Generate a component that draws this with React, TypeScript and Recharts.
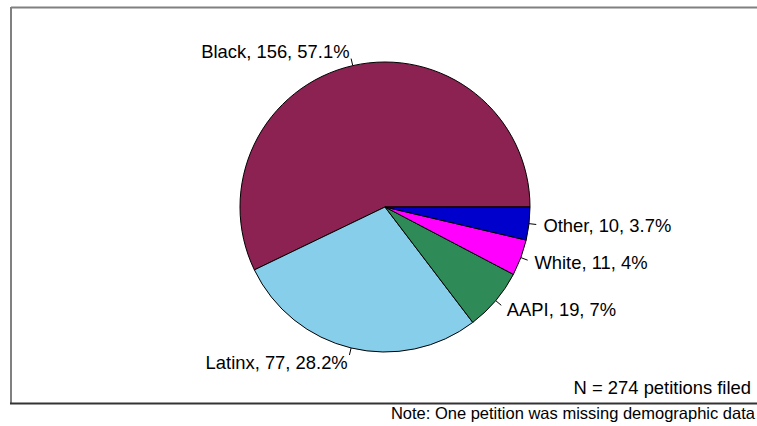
import React from "react"
import { Cell, Pie, PieChart } from "recharts"

const groups = ["Black", "Latinx", "AAPI", "White", "Other"]
const counts = [156, 77, 19, 11, 10]
const shares = ["57.1%", "28.2%", "7%", "4%", "3.7%"]
const colors = ["#8B2252", "#87CEEB", "#2E8B57", "#FF00FF", "#0000CD"]

const data = groups.map((name, i) => ({ name, value: counts[i], share: shares[i] }))

const FONT = "'Liberation Sans', Arial, sans-serif"
const RAD = Math.PI / 180

const renderLabel = (props: any) => {
  const { cx, cy, midAngle, outerRadius, index } = props
  const c = Math.cos(-midAngle * RAD)
  const s = Math.sin(-midAngle * RAD)
  const x1 = cx + outerRadius * c
  const y1 = cy + outerRadius * s
  const x2 = cx + outerRadius * 1.05 * c
  const y2 = cy + outerRadius * 1.05 * s
  const tx = cx + outerRadius * 1.1 * c
  const ty = cy + outerRadius * 1.1 * s
  const d = data[index]
  return (
    <g key={`lbl-${index}`}>
      <line x1={x1} y1={y1} x2={x2} y2={y2} stroke="#000" strokeWidth={1} />
      <text
        x={tx}
        y={ty}
        textAnchor={c >= 0 ? "start" : "end"}
        dominantBaseline="central"
        fontFamily={FONT}
        fontSize={18.4}
        fill="#000"
      >
        {`${d.name}, ${d.value}, ${d.share}`}
      </text>
    </g>
  )
}

export default function App() {
  return (
    <div style={{ position: "absolute", left: 0, top: 0, width: 757, height: 426, background: "#fff" }}>
      <PieChart width={757} height={426} margin={{ top: 0, right: 0, bottom: 0, left: 0 }}>
        <Pie
          data={data}
          dataKey="value"
          nameKey="name"
          cx={385}
          cy={207}
          outerRadius={145}
          startAngle={0}
          endAngle={360}
          stroke="#000"
          strokeWidth={1}
          label={renderLabel}
          labelLine={false}
          isAnimationActive={false}
        >
          {data.map((d, i) => (
            <Cell key={d.name} fill={colors[i]} />
          ))}
        </Pie>
      </PieChart>
      <svg
        width={757}
        height={426}
        style={{ position: "absolute", left: 0, top: 0, pointerEvents: "none" }}
      >
        <line x1={11} y1={7.5} x2={757} y2={7.5} stroke="#808080" strokeWidth={2} />
        <line x1={11} y1={7} x2={11} y2={404} stroke="#808080" strokeWidth={2} />
        <line x1={10} y1={403.5} x2={757} y2={403.5} stroke="#333" strokeWidth={2} />
        <text x={751} y={394} textAnchor="end" fontFamily={FONT} fontSize={18.4} fill="#000">
          N = 274 petitions filed
        </text>
        <text x={755} y={419} textAnchor="end" fontFamily={FONT} fontSize={16.5} fill="#000">
          Note: One petition was missing demographic data
        </text>
      </svg>
    </div>
  )
}
